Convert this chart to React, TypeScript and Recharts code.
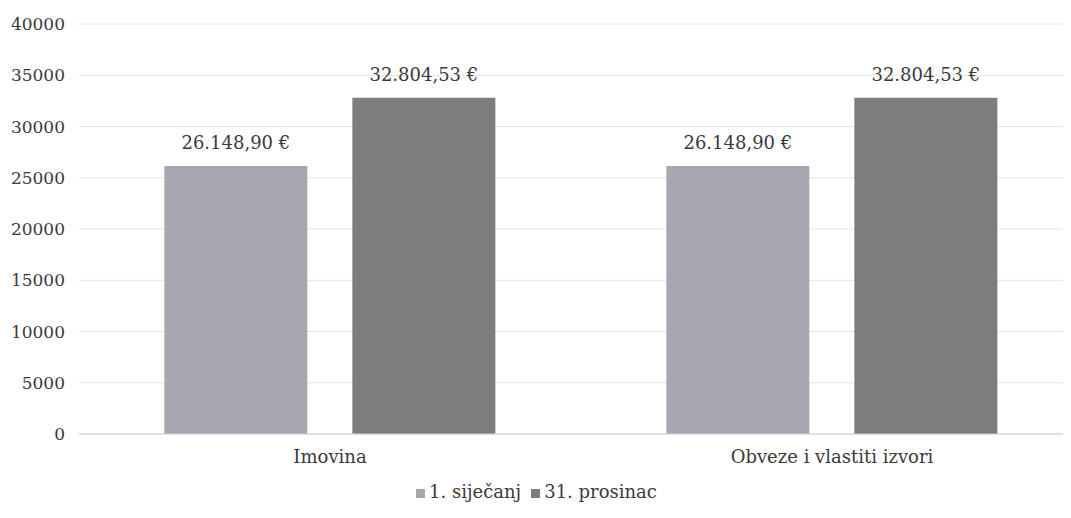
import React from 'react';
import { BarChart, Bar, XAxis, YAxis, CartesianGrid, Legend, LabelList } from 'recharts';

const categories = ['Imovina', 'Obveze i vlastiti izvori'];
const sijecanj = [26148.9, 26148.9];
const prosinac = [32804.53, 32804.53];
const yTicks = [0, 5000, 10000, 15000, 20000, 25000, 30000, 35000, 40000];

const data = categories.map((name, i) => ({
  name,
  sijecanj: sijecanj[i],
  prosinac: prosinac[i],
}));

const fmt = (v: number) =>
  v.toLocaleString('de-DE', { minimumFractionDigits: 2, maximumFractionDigits: 2 }) + ' €';

const font = '"DejaVu Serif", serif';
const textColor = '#3a3a3a';

export default function App() {
  return (
    <div style={{ width: 1071, height: 518, overflow: 'hidden', margin: -8, background: '#fff', fontFamily: font }}>
      <BarChart
        width={1083}
        height={518}
        data={data}
        margin={{ top: 24, right: 0, left: 0, bottom: 14 }}
        barCategoryGap="17%"
        barGap={45}
        style={{ fontFamily: font }}
      >
        <CartesianGrid vertical={false} stroke="#e2e4ec" />
        <XAxis
          dataKey="name"
          axisLine={{ stroke: '#cdd1de' }}
          tickLine={false}
          tickSize={0}
          tickMargin={16}
          height={46}
          tick={{ fill: textColor, fontSize: 18, fontFamily: font }}
        />
        <YAxis
          domain={[0, 40000]}
          ticks={yTicks}
          axisLine={false}
          tickLine={false}
          tickSize={0}
          tickMargin={14}
          width={79}
          tick={{ fill: textColor, fontSize: 17, fontFamily: font }}
        />
        <Legend
          verticalAlign="bottom"
          align="center"
          iconType="square"
          iconSize={9}
          wrapperStyle={{ fontSize: 18, fontFamily: font, lineHeight: '24px' }}
          formatter={(value: string) => <span style={{ color: textColor, fontFamily: font }}>{value}</span>}
        />
        <Bar dataKey="sijecanj" name="1. siječanj" fill="#a7a7b0" isAnimationActive={false}>
          <LabelList dataKey="sijecanj" position="top" offset={17} formatter={(v: any) => fmt(Number(v))} style={{ fill: textColor, fontSize: 18, fontFamily: font }} />
        </Bar>
        <Bar dataKey="prosinac" name="31. prosinac" fill="#7d7d80" isAnimationActive={false}>
          <LabelList dataKey="prosinac" position="top" offset={17} formatter={(v: any) => fmt(Number(v))} style={{ fill: textColor, fontSize: 18, fontFamily: font }} />
        </Bar>
      </BarChart>
    </div>
  );
}
